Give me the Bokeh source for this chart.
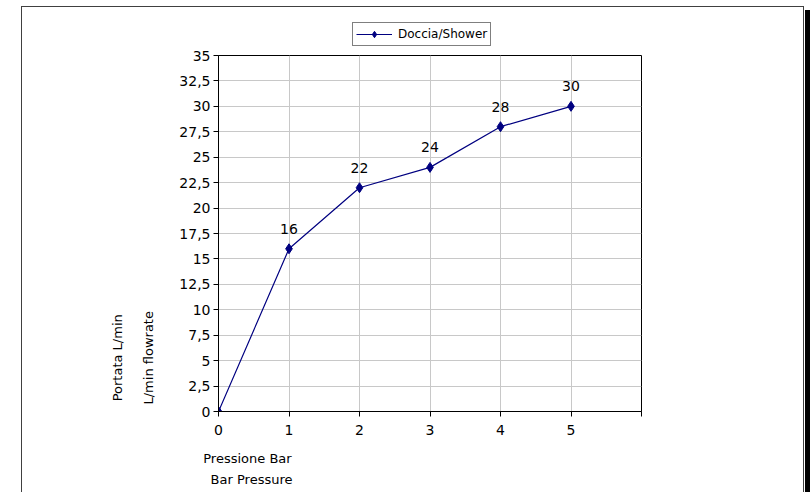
from bokeh.plotting import figure
from bokeh.layouts import column
from bokeh.models import (ColumnDataSource, FixedTicker, LabelSet, Legend,
                          LegendItem, Range1d)
from bokeh.core.properties import value
from bokeh.embed import file_html
from bokeh.resources import INLINE

# ---- data ----
pressure_bar = [0, 1, 2, 3, 4, 5]
flow_lmin = [0, 16, 22, 24, 28, 30]
point_labels = ["", "16", "22", "24", "28", "30"]
series_name = "Doccia/Shower"
y_ticks = [0, 2.5, 5, 7.5, 10, 12.5, 15, 17.5, 20, 22.5, 25, 27.5, 30, 32.5, 35]
y_tick_labels = ["0", "2,5", "5", "7,5", "10", "12,5", "15", "17,5", "20",
                 "22,5", "25", "27,5", "30", "32,5", "35"]
x_ticks = [0, 1, 2, 3, 4, 5, 6]
x_tick_labels = ["0", "1", "2", "3", "4", "5", ""]
x_title_lines = ["Pressione Bar", "Bar Pressure"]
y_title_lines = ["Portata L/min", "L/min flowrate"]

FONT = "DejaVu Sans"
NAVY = "#000080"
NB = "\u00a0"

W = 812
TOP_H = 47
MAIN_H = 492 - TOP_H

src = ColumnDataSource(dict(x=pressure_bar, y=flow_lmin, lab=point_labels))

# ---- legend strip (top); its ranges keep the series out of view ----
top = figure(width=W, height=TOP_H, output_backend="svg", toolbar_location=None,
             x_axis_type=None, y_axis_type=None,
             x_range=Range1d(-2, -1), y_range=Range1d(-2, -1),
             min_border=0, min_border_left=0, min_border_right=0,
             min_border_top=0, min_border_bottom=0)
top.outline_line_color = None
top.xgrid.visible = False
top.ygrid.visible = False
top.background_fill_alpha = 0
top.border_fill_alpha = 0
lg_line = top.line("x", "y", source=src, line_color=NAVY, line_width=1.2)
lg_mark = top.scatter("x", "y", source=src, marker="diamond", size=10,
                      fill_color=NAVY, line_color=NAVY)
legend = Legend(items=[LegendItem(label=series_name, renderers=[lg_line, lg_mark])],
                location=(134, 1), orientation="horizontal",
                label_text_font=FONT, label_text_font_size="12px",
                label_text_color="black",
                glyph_width=36, glyph_height=16, label_standoff=6,
                padding=3, margin=0, spacing=0,
                border_line_color="black", border_line_width=1,
                background_fill_color="white", background_fill_alpha=1)
top.add_layout(legend, "center")

# ---- main chart ----
p = figure(width=W, height=MAIN_H, output_backend="svg", toolbar_location=None,
           x_range=Range1d(0, 6), y_range=Range1d(0, 35),
           min_border_left=218, min_border_right=W - 641,
           min_border_top=55 - TOP_H, min_border_bottom=MAIN_H - (411 - TOP_H))
p.background_fill_color = "white"
p.border_fill_alpha = 0
p.outline_line_color = "black"
p.outline_line_width = 1

p.line("x", "y", source=src, line_color=NAVY, line_width=1.2)
p.scatter("x", "y", source=src, marker="diamond", size=10,
          fill_color=NAVY, line_color=NAVY)

p.add_layout(LabelSet(x="x", y="y", text="lab", source=src, y_offset=20,
                      text_align="center", text_baseline="middle",
                      text_font=value(FONT), text_font_size="14px",
                      text_color="black"))

for ax in (p.xaxis[0], p.yaxis[0]):
    ax.axis_line_color = "black"
    ax.major_tick_line_color = "black"
    ax.major_tick_out = 5
    ax.major_tick_in = 0
    ax.minor_tick_line_color = None
    ax.major_label_text_font = FONT
    ax.major_label_text_font_size = "14px"
    ax.major_label_text_color = "black"
    ax.axis_label_text_font = FONT
    ax.axis_label_text_font_size = "13px"
    ax.axis_label_text_font_style = "normal"
    ax.axis_label_text_color = "black"
    ax.axis_label_align = "start"

p.xaxis[0].ticker = FixedTicker(ticks=x_ticks)
p.xaxis[0].major_label_overrides = {t: l for t, l in zip(x_ticks, x_tick_labels)}
p.xaxis[0].major_label_standoff = 8
p.xaxis[0].axis_label = "\n".join(NB * n + t for n, t in zip([14, 16], x_title_lines))
p.xaxis[0].axis_label_standoff = 13
p.xaxis[0].axis_label_text_line_height = 1.4

p.yaxis[0].ticker = FixedTicker(ticks=y_ticks)
p.yaxis[0].major_label_overrides = {t: l for t, l in zip(y_ticks, y_tick_labels)}
p.yaxis[0].major_label_standoff = 3
p.yaxis[0].axis_label = "\n".join(NB * n + t for n, t in zip([26, 26], y_title_lines))
p.yaxis[0].axis_label_standoff = 20
p.yaxis[0].axis_label_text_line_height = 2.08

p.xgrid.grid_line_color = "#c8c8c8"
p.ygrid.grid_line_color = "#c8c8c8"

g = "linear-gradient(#404040,#404040)"
layout = column(top, p, spacing=0, styles={
    "background-color": "white",
    "background-image": f"{g},{g},{g},linear-gradient(#000,#000)",
    "background-position": "21px 6px, 21px 6px, 803px 6px, 805px 10px",
    "background-size": "783px 1px, 1px 486px, 1px 486px, 5px 482px",
    "background-repeat": "no-repeat",
})

open("out.html", "w").write(file_html(layout, INLINE))
